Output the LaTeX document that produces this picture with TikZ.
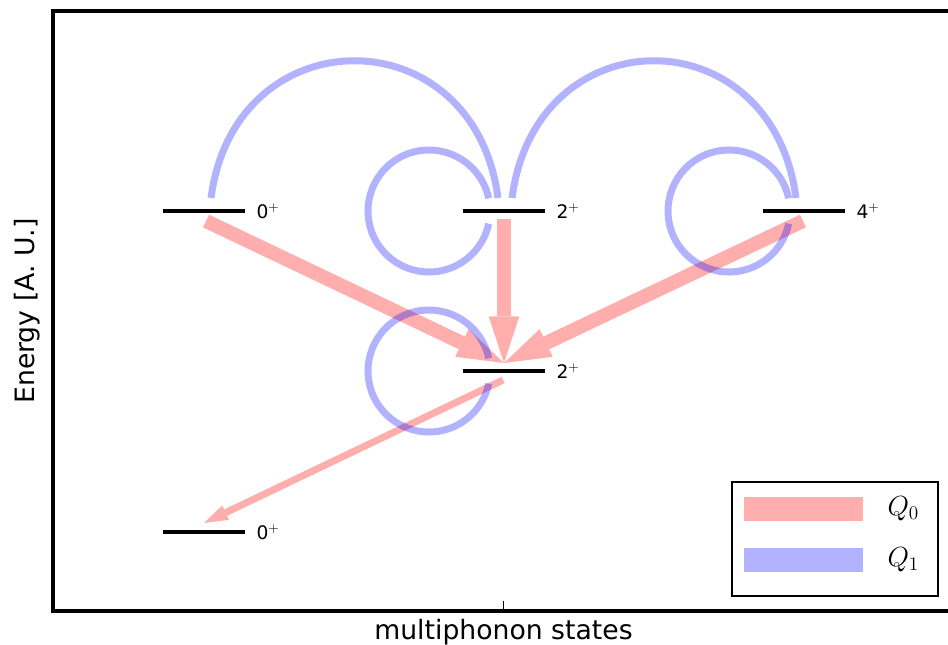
\documentclass[tikz,border=0pt]{standalone}
\usepackage{fontspec}
\setmainfont{DejaVu Sans}
\usetikzlibrary{arrows.meta,positioning}
\definecolor{qred}{RGB}{255,174,174}
\tikzset{lvl/.style={minimum width=61.5pt,minimum height=0pt,inner sep=0pt},
  lvlbar/.style={color=black,line width=2.3pt},
  lvltxt/.style={inner sep=0pt,font=\fontsize{14}{16}\selectfont},
  axtxt/.style={inner sep=0pt,font=\fontsize{20}{24}\selectfont},
  qzero/.style={color=qred,line width=10.5pt,-{Triangle[length=35pt,width=23pt,line width=0pt]}},
  qzerothin/.style={color=qred,line width=5.25pt,-{Triangle[length=18pt,width=12pt,line width=0pt]}},
  qone/.style={color=blue,opacity=0.3,line width=5.25pt},
  legbar/.style={minimum width=89.25pt,minimum height=18pt,inner sep=0pt}}

\begin{document}
\begin{tikzpicture}[x=0.75pt,y=-0.75pt]
            \useasboundingbox (0,0) rectangle (948,645);
            \draw[color=black,line width=3pt] (948,11) -- (53,11) -- (53,611) -- (948,611); \draw[color=black,line width=0.75pt] (503.5,611) -- (503.5,601);
            \node[axtxt,rotate=90] (ylab) at (27,311) {Energy [A. U.]};
            \node[axtxt,anchor=base] (xlab) at (503.5,639) {multiphonon states};

            \node[lvl] (g0) at (204,211) {}; \node[lvl] (g2) at (504,211) {}; \node[lvl] (g4) at (804,211) {}; \node[lvl] (m2) at (504,371) {}; \node[lvl] (b0) at (204,532) {};
            \draw[lvlbar] (g0.west) -- (g0.east); \draw[lvlbar] (g2.west) -- (g2.east); \draw[lvlbar] (g4.west) -- (g4.east); \draw[lvlbar] (m2.west) -- (m2.east); \draw[lvlbar] (b0.west) -- (b0.east);
            \node[lvltxt,right=8.25pt of g0] (g0t) {0$^+$}; \node[lvltxt,right=8.25pt of g2] (g2t) {2$^+$}; \node[lvltxt,right=8.25pt of g4] (g4t) {4$^+$}; \node[lvltxt,right=8.25pt of m2] (m2t) {2$^+$}; \node[lvltxt,right=8.25pt of b0] (b0t) {0$^+$};

            \draw[qzero] ([shift={(2,10)}]g0.center) -- ([shift={(0,-8)}]m2.center); \draw[qzero] ([shift={(0,8)}]g2.center) -- ([shift={(0,-8)}]m2.center); \draw[qzero] ([shift={(-1,10)}]g4.center) -- ([shift={(0,-8)}]m2.center);
            \draw[qzerothin] ([shift={(-1,9)}]m2.center) -- ([shift={(0,-9)}]b0.center);

            \draw[qone] ([shift={(7,-13)}]g0.center) .. controls (235,15) and (474,15) .. ([shift={(-6,-13)}]g2.center); \draw[qone] ([shift={(8,-13)}]g2.center) .. controls (536,15) and (772,15) .. ([shift={(-8,-13)}]g4.center);
            \draw[qone] (g2.center) ++(-75,0) ++(-12:61) arc[start angle=-12,end angle=-348,radius=61]; \draw[qone] (g4.center) ++(-75,0) ++(-12:61) arc[start angle=-12,end angle=-348,radius=61]; \draw[qone] (m2.center) ++(-75,0) ++(-12:61) arc[start angle=-12,end angle=-348,radius=61];

            \node[draw,fill=white,line width=1.5pt,minimum width=154.5pt,minimum height=85.5pt,inner sep=0pt] (key) at (835,539) {};
            \node[legbar,fill=qred] (k0) at (803.5,509) {}; \node[legbar,fill=blue,opacity=0.3] (k1) at (803.5,560) {};
            \node[axtxt,right=18pt of k0] (k0t) {$Q_0$}; \node[axtxt,right=18pt of k1] (k1t) {$Q_1$};
        \end{tikzpicture}
\end{document}
